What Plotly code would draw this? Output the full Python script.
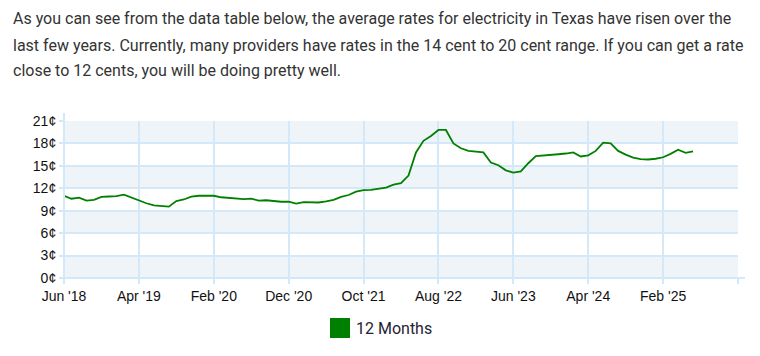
import plotly.graph_objects as go

# Data: monthly average rate (cents/kWh), Jun 2018 .. Jun 2025
month_index = list(range(85))
rates = [
    11.0, 10.6, 10.75, 10.35, 10.45, 10.85, 10.9, 10.95, 11.15, 10.75,
    10.3, 10.0, 9.7, 9.65, 9.55, 10.3, 10.5, 10.88, 11.0, 11.0,
    11.0, 10.8, 10.7, 10.62, 10.55, 10.62, 10.35, 10.4, 10.25, 10.2,
    10.2, 9.95, 10.15, 10.15, 10.1, 10.25, 10.45, 10.85, 11.1, 11.55,
    11.75, 11.78, 11.95, 12.1, 12.5, 12.7, 13.7, 16.8, 18.35, 19.0,
    19.8, 19.8, 18.0, 17.35, 17.0, 16.9, 16.8, 15.45, 15.08, 14.4,
    14.1, 14.25, 15.35, 16.3, 16.35, 16.45, 16.55, 16.65, 16.8, 16.25,
    16.4, 17.0, 18.1, 18.0, 17.0, 16.5, 16.1, 15.9, 15.85, 15.95,
    16.15, 16.6, 17.15, 16.75, 16.95,
]
x_tick_vals = [0, 10, 20, 30, 40, 50, 60, 70, 80, 90]
x_tick_text = ["Jun '18", "Apr '19", "Feb '20", "Dec '20", "Oct '21",
               "Aug '22", "Jun '23", "Apr '24", "Feb '25", ""]
y_tick_vals = [0, 3, 6, 9, 12, 15, 18, 21]
y_tick_text = [f"{v}¢" for v in y_tick_vals]
series_name = "12 Months"
paragraph_lines = [
    "As you can see from the data table below, the average rates for electricity in Texas have risen over the",
    "last few years. Currently, many providers have rates in the 14 cent to 20 cent range. If you can get a rate",
    "close to 12 cents, you will be doing pretty well.",
]

W, H = 760, 356
L, R, T, B = 64, 22, 121, 78
pw, ph = W - L - R, H - T - B

def px(x):
    return (x - L) / pw

def py(y):
    return (H - B - y) / ph

GREEN = "#008000"
GRID = "#d3e8f8"
BAND = "#eff4f9"

fig = go.Figure()
fig.add_trace(go.Scatter(
    x=month_index, y=rates, mode="lines", name=series_name,
    line=dict(color=GREEN, width=1.8), showlegend=False,
))

shapes = []
for lo in [0, 6, 12, 18]:
    shapes.append(dict(type="rect", xref="paper", yref="y", x0=0, x1=1,
                       y0=lo, y1=lo + 3, fillcolor=BAND, line=dict(width=0),
                       layer="below"))
# axis line extensions
shapes.append(dict(type="line", xref="paper", yref="paper", x0=0, x1=0,
                   y0=0, y1=py(113), line=dict(color=GRID, width=2)))
shapes.append(dict(type="line", xref="paper", yref="paper", x0=px(60), x1=px(745),
                   y0=0, y1=0, line=dict(color=GRID, width=2)))
# legend swatch
shapes.append(dict(type="rect", xref="paper", yref="paper",
                   x0=px(330), x1=px(350), y0=py(338), y1=py(318),
                   fillcolor=GREEN, line=dict(width=0)))

annotations = []
for i, (txt, yc) in enumerate(zip(paragraph_lines, [19, 45, 70])):
    annotations.append(dict(text=txt, xref="paper", yref="paper", x=px(11), y=py(yc),
                            xanchor="left", yanchor="middle", showarrow=False,
                            font=dict(family="Roboto", size=16, color="#333333")))
annotations.append(dict(text=series_name, xref="paper", yref="paper", x=px(354), y=py(328),
                        xanchor="left", yanchor="middle", showarrow=False,
                        font=dict(family="Roboto", size=16, color="#1f2433")))

fig.update_layout(
    width=W, height=H,
    margin=dict(l=L, r=R, t=T, b=B, pad=0),
    paper_bgcolor="white", plot_bgcolor="white",
    shapes=shapes, annotations=annotations,
    xaxis=dict(range=[0, 90], tickvals=x_tick_vals, ticktext=x_tick_text,
               showgrid=True, gridcolor=GRID, gridwidth=2, zeroline=False,
               ticks="outside", ticklen=5, tickcolor=GRID, tickwidth=2,
               tickfont=dict(family="Arial", size=14, color="#111111"),
               fixedrange=True),
    yaxis=dict(range=[0, 21], tickvals=y_tick_vals, ticktext=y_tick_text,
               showgrid=True, gridcolor=GRID, gridwidth=2, zeroline=False,
               ticks="outside", ticklen=4, tickcolor=GRID, tickwidth=2,
               tickfont=dict(family="Arial", size=14, color="#111111"),
               fixedrange=True),
)

fig.write_html("out.html")
